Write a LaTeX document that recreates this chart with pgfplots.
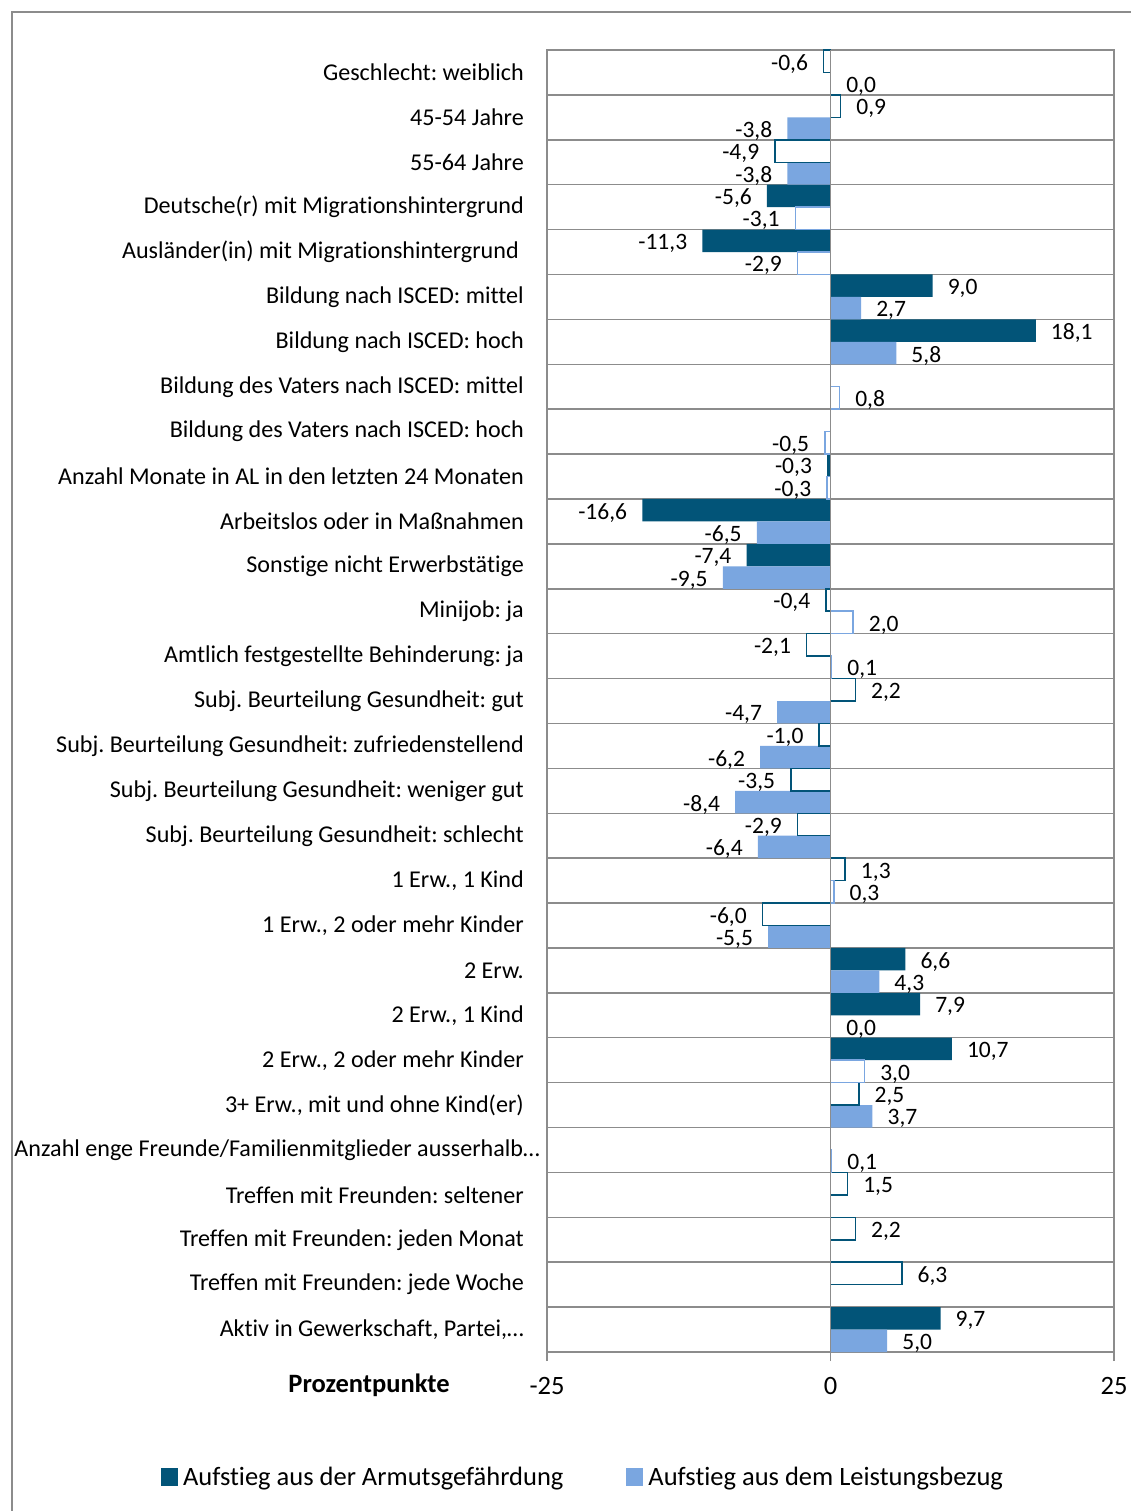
\documentclass[border=0pt]{standalone}
\usepackage{pgfplots}
\pgfplotsset{compat=1.18}
\usepackage{fontspec}
\setmainfont{Carlito}[Ligatures=NoCommon]
\frenchspacing
\definecolor{dark}{RGB}{2,84,120}
\definecolor{light}{RGB}{122,166,224}
\definecolor{gridgray}{RGB}{140,140,140}
\newcommand{\catfont}{\fontsize{24.1}{28}\selectfont}
\newcommand{\lblfont}{\fontsize{23.5}{27}\selectfont}
\newcommand{\bigfont}{\fontsize{26.5}{30}\selectfont}
\begin{document}
\begin{tikzpicture}
\useasboundingbox (0pt,0pt) rectangle (1131pt,-1511pt);
\fill[white] (0pt,0pt) rectangle (1131pt,-1511pt);
\draw[gridgray, line width=1.5pt] (12pt,-1511pt) -- (12pt,-12pt) -- (1131pt,-12pt);
\begin{axis}[
  at={(547pt,-50pt)}, anchor=north west,
  scale only axis, width=567pt, height=1302pt,
  xbar, bar width=0.5,
  xmin=-25, xmax=25, ymin=0.5, ymax=29.5, y dir=reverse,
  clip=false,
  axis line style={gridgray, line width=1.5pt},
  xtick={-25,0,25},
  xtick pos=left,
  tick align=outside,
  major tick length=9pt,
  xtick style={gridgray, line width=1.5pt},
  xticklabel style={font=\bigfont, inner sep=0pt, yshift=-16pt},
  /pgf/number format/assume math mode=true,
  ytick={1,...,29},
  ytick style={draw=none},
  minor ytick={1.5,2.5,...,28.5},
  minor tick length=0pt,
  yminorgrids,
  minor grid style={gridgray, line width=1.5pt},
  yticklabel style={font=\catfont, anchor=east, inner sep=0pt, xshift=-14pt},
  yticklabels={
    Geschlecht: weiblich,
    45-54 Jahre,
    55-64 Jahre,
    Deutsche(r) mit Migrationshintergrund,
    {Ausländer(in) mit Migrationshintergrund\hspace*{5pt}},
    Bildung nach ISCED: mittel,
    Bildung nach ISCED: hoch,
    Bildung des Vaters nach ISCED: mittel,
    Bildung des Vaters nach ISCED: hoch,
    Anzahl Monate in AL in den letzten 24 Monaten,
    Arbeitslos oder in Maßnahmen,
    Sonstige nicht Erwerbstätige,
    Minijob: ja,
    Amtlich festgestellte Behinderung: ja,
    Subj. Beurteilung Gesundheit: gut,
    Subj. Beurteilung Gesundheit: zufriedenstellend,
    Subj. Beurteilung Gesundheit: weniger gut,
    Subj. Beurteilung Gesundheit: schlecht,
    {1 Erw., 1 Kind},
    {1 Erw., 2 oder mehr Kinder},
    2 Erw.,
    {2 Erw., 1 Kind},
    {2 Erw., 2 oder mehr Kinder},
    {3+ Erw., mit und ohne Kind(er)},
    {Anzahl enge Freunde/Familienmitglieder ausserhalb…\hspace*{-16pt}},
    Treffen mit Freunden: seltener,
    Treffen mit Freunden: jeden Monat,
    Treffen mit Freunden: jede Woche,
    {Aktiv in Gewerkschaft, Partei,…}
  },
  point meta=x,
  nodes near coords={\pgfmathprintnumber[fixed,fixed zerofill,precision=1,use comma,assume math mode=true]{\pgfplotspointmeta}},
  nodes near coords align=horizontal,
  every node near coord/.append style={font=\lblfont, text=black, inner xsep=15pt, inner ysep=0pt, yshift=-2.5pt},
  legend columns=2,
  legend style={at={(0.0635,-0.096)}, anchor=center, draw=none, font=\bigfont,
    /tikz/every odd column/.append style={column sep=3pt},
    /tikz/every even column/.append style={column sep=61pt},
    cells={anchor=west}, inner sep=0pt},
]
% dark filled
\addplot[fill=dark, draw=none, bar shift=-0.25,
  legend image code/.code={\fill[dark] (0pt,-9pt) rectangle (17pt,9pt);}]
  coordinates {(-5.6,4) (-11.3,5) (9.0,6) (18.1,7) (-0.3,10) (-16.6,11) (-7.4,12) (6.6,21) (7.9,22) (10.7,23) (9.7,29)};
\addlegendentry{Aufstieg aus der Armutsgefährdung}
% light filled
\addplot[fill=light, draw=none, bar shift=0.25,
  legend image code/.code={\fill[light] (0pt,-9pt) rectangle (17pt,9pt);}]
  coordinates {(-3.8,2) (-3.8,3) (2.7,6) (5.8,7) (-6.5,11) (-9.5,12) (-4.7,15) (-6.2,16) (-8.4,17) (-6.4,18) (-5.5,20) (4.3,21) (3.7,24) (5.0,29)};
\addlegendentry{Aufstieg aus dem Leistungsbezug}
% dark hollow
\addplot[fill=white, draw=dark, line width=1.5pt, bar shift=-0.25, forget plot]
  coordinates {(-0.6,1) (0.9,2) (-4.9,3) (-0.4,13) (-2.1,14) (2.2,15) (-1.0,16) (-3.5,17) (-2.9,18) (1.3,19) (-6.0,20) (2.5,24) (1.5,26) (2.2,27) (6.3,28)};
% light hollow
\addplot[fill=white, draw=light, line width=1.5pt, bar shift=0.25, forget plot]
  coordinates {(0.0,1) (-3.1,4) (-2.9,5) (0.8,8) (-0.5,9) (-0.3,10) (2.0,13) (0.1,14) (0.3,19) (0.0,22) (3.0,23) (0.1,25)};
\draw[gridgray, line width=1.5pt] (axis cs:0,0.5) -- (axis cs:0,29.5);
\end{axis}
\node[font=\bfseries\bigfont, inner sep=0pt] at (369pt,-1385pt) {Prozentpunkte};
\end{tikzpicture}
\end{document}
